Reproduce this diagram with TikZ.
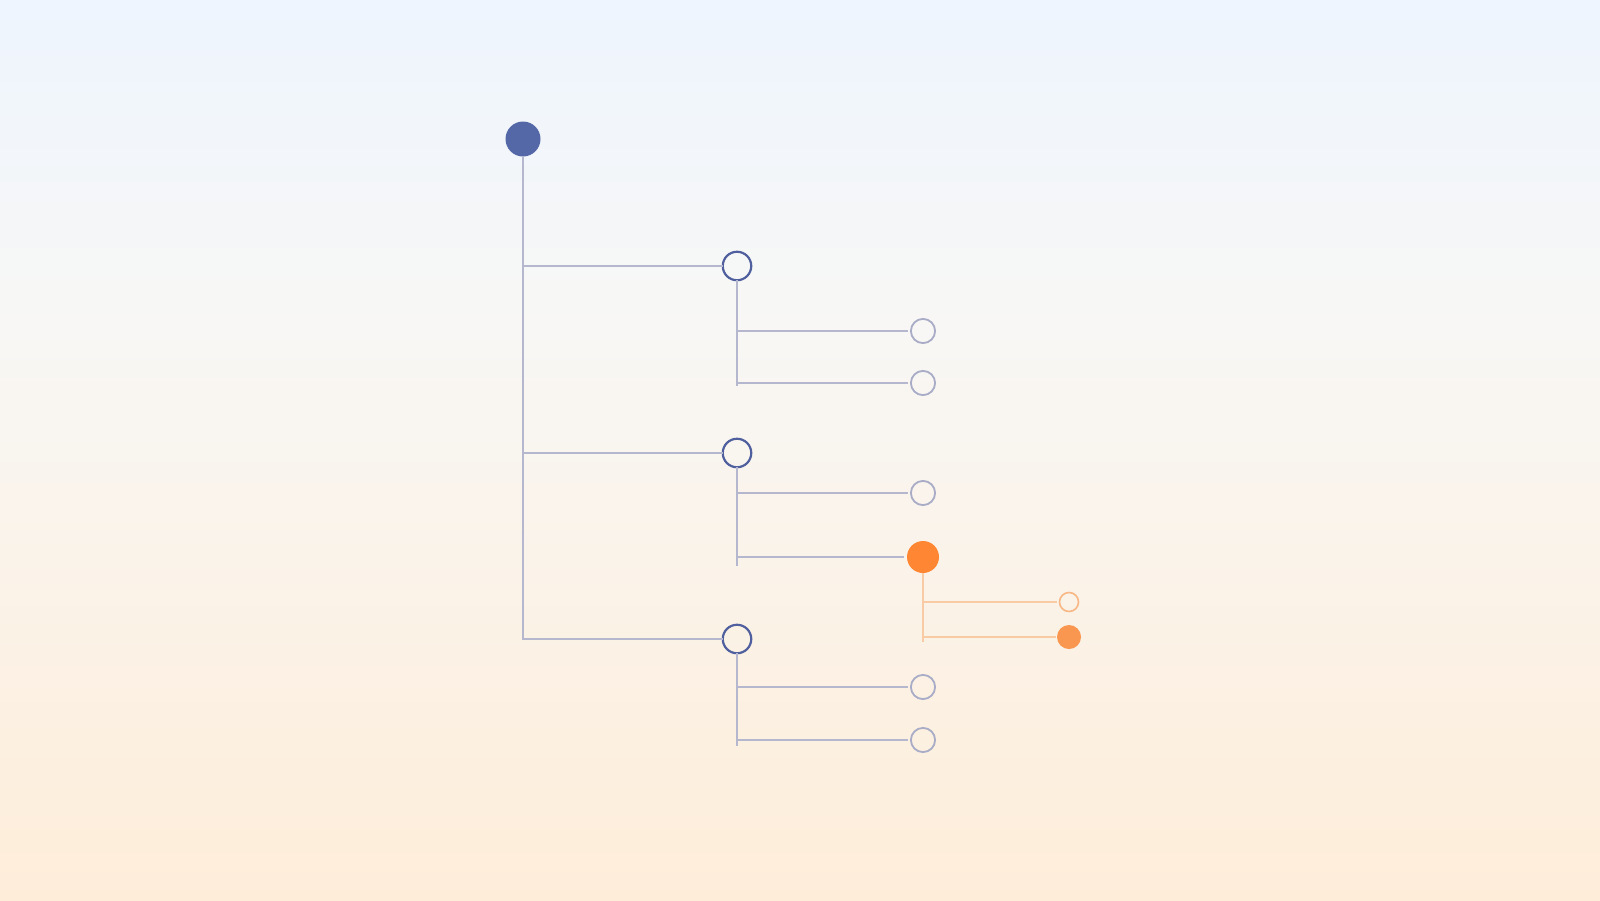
\documentclass[tikz,border=0pt]{standalone}
\begin{document}
\begin{tikzpicture}[x=1pt,y=-1pt,
  dot/.style={circle,inner sep=0pt,outer sep=0pt},
  rootnode/.style={dot,fill=rootblue,minimum size=35pt},
  lvlone/.style={dot,draw=ringblue,line width=2.2pt,minimum size=28.5pt},
  lvltwo/.style={dot,draw=ringgray,line width=1.8pt,minimum size=24.2pt},
  hotnode/.style={dot,fill=hotorange,minimum size=32pt},
  subring/.style={dot,draw=subringc,line width=1.6pt,minimum size=19pt},
  subfill/.style={dot,fill=subfillc,minimum size=24pt},
  link/.style={draw=linkgray,line width=1.6pt},
  olink/.style={draw=linkorange,line width=1.6pt}]
\definecolor{bgtop}{HTML}{EEF5FE}
\definecolor{bgmid}{HTML}{F8F7F5}
\definecolor{bgbot}{HTML}{FEEDD9}
\definecolor{rootblue}{HTML}{5468A8}
\definecolor{ringblue}{HTML}{50609F}
\definecolor{ringgray}{HTML}{A8ACC6}
\definecolor{linkgray}{HTML}{B4B7CE}
\definecolor{hotorange}{HTML}{FF8734}
\definecolor{subringc}{HTML}{F7B886}
\definecolor{subfillc}{HTML}{F9964F}
\definecolor{linkorange}{HTML}{F8CBA5}
% background
\useasboundingbox (0,0) rectangle (1600,900);
\shade[top color=bgtop,bottom color=bgmid] (0,0) rectangle (1600,330);
\shade[top color=bgmid,bottom color=bgbot] (0,329.5) rectangle (1600,900);
% nodes
\node[rootnode] (r) at (523,139) {};
\node[lvlone] (a) at (737,266) {};
\node[lvlone] (b) at (737,453) {};
\node[lvlone] (c) at (737,639) {};
\node[lvltwo] (a1) at (923,331) {};
\node[lvltwo] (a2) at (923,383) {};
\node[lvltwo] (b1) at (923,493) {};
\node[hotnode] (b2) at (923,557) {};
\node[lvltwo] (c1) at (923,687) {};
\node[lvltwo] (c2) at (923,740) {};
\node[subring] (o1) at (1069,602) {};
\node[subfill] (o2) at (1069,637) {};
\coordinate (aend) at (737,386);
\coordinate (bend) at (737,566);
\coordinate (cend) at (737,746);
\coordinate (oend) at (923,642);
% trunk
\draw[link] (r) |- (c);
\draw[link] (r |- a) -- (a);
\draw[link] (r |- b) -- (b);
% level one branches
\draw[link] (a) -- (aend);
\draw[link,shorten >=3pt] (a |- a1) -- (a1);
\draw[link,shorten >=3pt] (a |- a2) -- (a2);
\draw[link] (b) -- (bend);
\draw[link,shorten >=3pt] (b |- b1) -- (b1);
\draw[link,shorten >=3pt] (b |- b2) -- (b2);
\draw[link] (c) -- (cend);
\draw[link,shorten >=3pt] (c |- c1) -- (c1);
\draw[link,shorten >=3pt] (c |- c2) -- (c2);
% orange sub-branch
\draw[olink] (b2) -- (oend);
\draw[olink,shorten >=3pt] (b2 |- o1) -- (o1);
\draw[olink,shorten >=1pt] (b2 |- o2) -- (o2);
\end{tikzpicture}
\end{document}
